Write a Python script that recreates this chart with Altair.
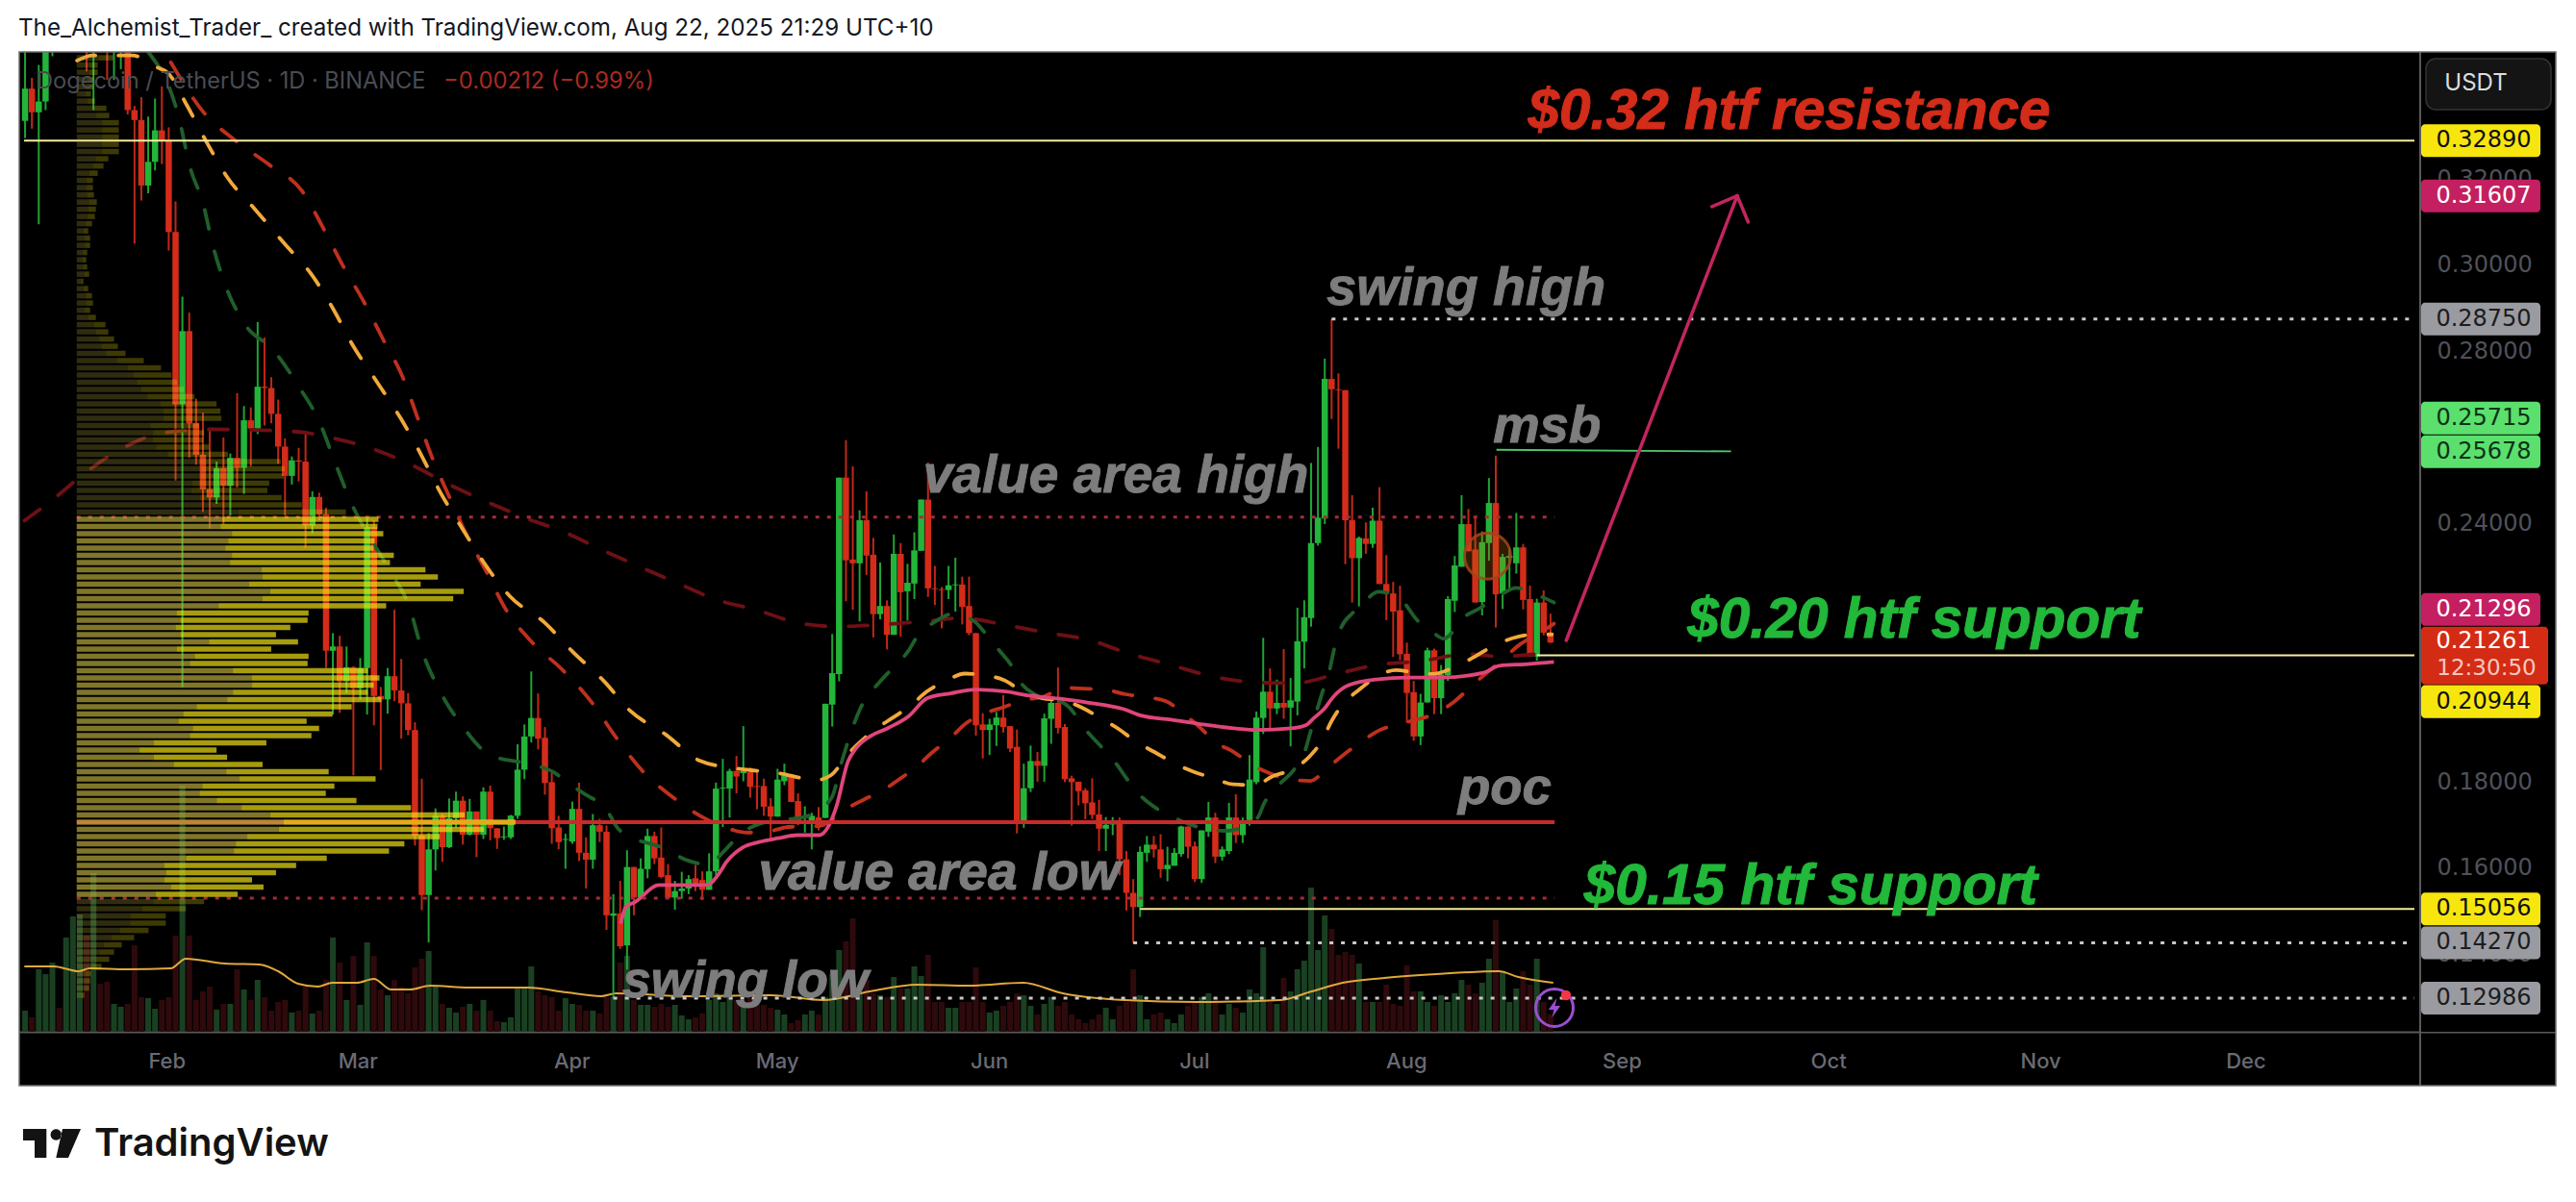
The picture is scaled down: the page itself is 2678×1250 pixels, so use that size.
import altair as alt
import pandas as pd

# ---------- daily candles (open, high, low, close), first candle is Jan 11 2025 ----------
ohlc_jan = [
(.3335,.3520,.3295,.3410),(.3410,.3435,.3317,.3355),(.3355,.3465,.3095,.3380),(.3380,.3700,.3360,.3600),
(.3600,.4100,.3485,.3800),(.3800,.4000,.3600,.3700),(.3700,.3850,.3550,.3800),(.3800,.4000,.3600,.3900),
(.3900,.4300,.3700,.4100),(.4100,.4200,.3450,.3600),(.3600,.3900,.3360,.3750),(.3750,.3800,.3500,.3600),
(.3600,.3700,.3430,.3550),(.3550,.3800,.3430,.3650),(.3650,.3850,.3455,.3700),(.3700,.3750,.3350,.3360),
(.3360,.3370,.3050,.3337),(.3337,.3390,.3150,.3185),(.3185,.3345,.3167,.3240),(.3240,.3387,.3220,.3313),
(.3313,.3415,.3235,.3288)]
ohlc_feb = [
(.3288,.3320,.3034,.3077),(.3077,.3148,.2500,.2677),(.2677,.2927,.2020,.2847),(.2847,.2890,.2553,.2633),
(.2633,.2690,.2537,.2560),(.2560,.2658,.2427,.2480),(.2480,.2618,.2389,.2461),(.2461,.2544,.2446,.2529),
(.2529,.2600,.2399,.2488),(.2488,.2563,.2419,.2553),(.2553,.2703,.2484,.2530),(.2530,.2673,.2469,.2640),
(.2640,.2670,.2533,.2621),(.2621,.2868,.2608,.2718),(.2718,.2832,.2628,.2715),(.2715,.2740,.2633,.2655),
(.2655,.2688,.2539,.2579),(.2579,.2598,.2419,.2511),(.2511,.2556,.2491,.2547),(.2547,.2576,.2498,.2544),
(.2544,.2611,.2344,.2396),(.2396,.2475,.2378,.2462),(.2462,.2472,.2408,.2422),(.2422,.2437,.2065,.2105),
(.2105,.2146,.1957,.2115),(.2115,.2140,.1961,.2034),(.2034,.2115,.2007,.2067),(.2067,.2069,.1816,.2018)]
ohlc_mar = [
(.2018,.2088,.1992,.2065),(.2065,.2415,.1957,.2392),(.2392,.2408,.1932,.2000),(.2000,.2021,.1828,.1992),
(.1992,.2065,.1959,.2046),(.2046,.2200,.1988,.2013),(.2013,.2086,.1901,.1983),(.1983,.2007,.1909,.1921),
(.1921,.1939,.1653,.1676),(.1676,.1808,.1503,.1538),(.1538,.1682,.1428,.1644),(.1644,.1739,.1595,.1722),
(.1722,.1726,.1615,.1649),(.1649,.1762,.1647,.1716),(.1716,.1778,.1695,.1757),(.1757,.1767,.1655,.1678),
(.1678,.1761,.1676,.1732),(.1732,.1732,.1626,.1678),(.1678,.1788,.1668,.1778),(.1778,.1792,.1665,.1693),
(.1693,.1693,.1645,.1670),(.1672,.1697,.1666,.1674),(.1672,.1724,.1668,.1722),(.1722,.1888,.1715,.1829),
(.1829,.1934,.1807,.1906),(.1906,.2057,.1892,.1949),(.1949,.2006,.1876,.1901),(.1903,.1928,.1771,.1798),
(.1800,.1822,.1657,.1693),(.1695,.1722,.1644,.1661),(.1666,.1680,.1599,.1668)]
ohlc_apr = [
(.1662,.1755,.1657,.1738),(.1738,.1799,.1617,.1636),(.1636,.1672,.1553,.1620),(.1620,.1726,.1599,.1700),
(.1700,.1715,.1661,.1685),(.1685,.1699,.1457,.1491),(.1490,.1540,.1299,.1495),(.1495,.1571,.1413,.1419),
(.1421,.1642,.1365,.1603),(.1603,.1603,.1491,.1532),(.1532,.1623,.1532,.1599),(.1598,.1692,.1577,.1675),
(.1675,.1685,.1610,.1623),(.1625,.1695,.1577,.1580),(.1584,.1610,.1529,.1532),(.1532,.1571,.1504,.1547),
(.1547,.1592,.1529,.1553),(.1553,.1584,.1540,.1575),(.1577,.1608,.1547,.1563),(.1573,.1593,.1526,.1550),
(.1550,.1635,.1550,.1593),(.1593,.1799,.1584,.1785),(.1785,.1854,.1696,.1787),(.1785,.1831,.1718,.1826),
(.1826,.1861,.1774,.1813),(.1821,.1930,.1802,.1826),(.1823,.1834,.1764,.1789),(.1791,.1828,.1737,.1789),
(.1791,.1808,.1722,.1743),(.1744,.1763,.1670,.1720)]
ohlc_may = [
(.1720,.1831,.1720,.1806),(.1802,.1843,.1793,.1815),(.1815,.1819,.1754,.1754),(.1756,.1774,.1700,.1707),
(.1718,.1744,.1683,.1722),(.1711,.1729,.1644,.1722),(.1718,.1742,.1688,.1696),(.1717,.1982,.1717,.1982),
(.1980,.2144,.1929,.2053),(.2051,.2507,.2034,.2507),(.2507,.2594,.2220,.2315),(.2317,.2533,.2200,.2308),
(.2308,.2431,.2173,.2408),(.2408,.2475,.2281,.2326),(.2328,.2367,.2136,.2190),(.2190,.2310,.2178,.2209),
(.2209,.2222,.2108,.2142),(.2142,.2375,.2142,.2330),(.2330,.2355,.2138,.2241),(.2243,.2307,.2175,.2263),
(.2261,.2380,.2225,.2338),(.2337,.2456,.2337,.2456),(.2456,.2542,.2230,.2250),(.2250,.2302,.2211,.2248),
(.2248,.2253,.2157,.2246),(.2246,.2302,.2225,.2257),(.2257,.2321,.2196,.2259),(.2259,.2277,.2166,.2207),
(.2209,.2277,.2141,.2146),(.2146,.2146,.1908,.1932),(.1934,.1960,.1855,.1921)]
ohlc_jun = [
(.1921,.1947,.1863,.1934),(.1932,.1963,.1884,.1950),(.1950,.2002,.1915,.1928),(.1930,.1930,.1870,.1878),
(.1882,.1922,.1681,.1707),(.1707,.1843,.1694,.1786),(.1786,.1885,.1777,.1849),(.1849,.1870,.1801,.1838),
(.1838,.1959,.1801,.1948),(.1947,.1993,.1889,.1984),(.1984,.2066,.1913,.1926),(.1928,.1935,.1800,.1807),
(.1809,.1815,.1699,.1800),(.1801,.1801,.1746,.1779),(.1781,.1786,.1714,.1751),(.1753,.1809,.1714,.1724),
(.1725,.1759,.1640,.1692),(.1692,.1719,.1640,.1701),(.1701,.1719,.1677,.1702),(.1703,.1718,.1584,.1621),
(.1621,.1640,.1502,.1543),(.1543,.1575,.1427,.1510),(.1510,.1651,.1487,.1638),(.1636,.1675,.1615,.1655),
(.1655,.1675,.1625,.1644),(.1644,.1679,.1578,.1598),(.1598,.1650,.1570,.1608),(.1606,.1647,.1606,.1636),
(.1633,.1699,.1627,.1697),(.1697,.1697,.1623,.1650)]
ohlc_jul = [
(.1651,.1662,.1568,.1575),(.1575,.1688,.1566,.1688),(.1685,.1754,.1673,.1718),(.1718,.1729,.1612,.1627),
(.1627,.1651,.1618,.1644),(.1640,.1752,.1633,.1718),(.1718,.1772,.1659,.1677),(.1677,.1718,.1659,.1703),
(.1712,.1863,.1699,.1806),(.1800,.1964,.1795,.1950),(.1949,.2135,.1912,.2010),(.2010,.2064,.1926,.1971),
(.1971,.2038,.1958,.1984),(.1984,.2109,.1947,.1973),(.1973,.2042,.1883,.1990),(.1987,.2205,.1955,.2127),
(.2126,.2222,.2064,.2183),(.2181,.2541,.2161,.2355),(.2355,.2578,.2349,.2414),(.2412,.2783,.2399,.2736),
(.2736,.2875,.2643,.2712),(.2712,.2749,.2574,.2710),(.2710,.2710,.2306,.2408),(.2408,.2466,.2217,.2320),
(.2320,.2370,.2208,.2367),(.2366,.2403,.2330,.2353),(.2353,.2437,.2344,.2407),(.2407,.2485,.2260,.2260),
(.2260,.2327,.2176,.2238),(.2238,.2265,.2091,.2196),(.2199,.2256,.2083,.2097)]
ohlc_aug = [
(.2098,.2124,.1938,.2007),(.2009,.2035,.1896,.1906),(.1906,.2005,.1886,.1985),(.1985,.2112,.1985,.2106),
(.2106,.2110,.1958,.1995),(.1995,.2072,.1958,.2050),(.2048,.2232,.2035,.2225),(.2221,.2325,.2195,.2303),
(.2300,.2466,.2300,.2399),(.2399,.2434,.2336,.2336),(.2340,.2418,.2217,.2217),(.2218,.2382,.2187,.2357),
(.2355,.2506,.2314,.2448),(.2448,.2558,.2159,.2236),(.2238,.2330,.2202,.2323),(.2321,.2344,.2250,.2325),
(.2308,.2425,.2284,.2345),(.2345,.2353,.2201,.2223),(.2225,.2256,.2092,.2092),(.2092,.2226,.2082,.2217),
(.2217,.2245,.2141,.2147),(.2147,.2191,.2123,.2124)]

# ---------- volume (panel units), same order as the candles ----------
vol_jan = [22,15,65,60,72,25,98,120,122,100,165,50,52,29,26,29,90,36,35,24,33]
vol_feb = [36,100,256,100,33,42,47,23,29,29,65,44,33,54,36,22,31,33,20,22,47,19,22,54,98,72,33,79]
vol_mar = [28,93,79,44,38,54,47,40,67,76,84,47,29,25,20,26,29,22,33,22,11,10,15,45,45,68,42,38,36,22,35]
vol_apr = [29,28,22,22,19,36,36,72,79,33,28,28,26,29,26,28,17,13,15,19,33,40,31,35,33,26,35,30,28,25]
vol_may = [23,18,9,12,18,22,18,36,60,85,94,118,40,54,40,38,36,57,45,45,68,58,80,31,31,25,25,31,31,67,31]
vol_jun = [20,22,27,31,40,38,27,18,29,36,27,31,18,13,9,13,18,25,13,27,31,65,38,13,18,20,13,9,18,27]
vol_jul = [31,36,40,36,18,29,25,20,44,40,88,31,29,56,42,65,74,150,85,121,107,80,83,80,71,31,31,31,49,29,27]
vol_aug = [69,42,42,31,27,38,31,40,54,49,40,51,76,116,63,31,45,63,49,76,31,18]

# volume average line
volma_day = [-21.1,-16.8,-13.2,-11.5,-6.1,.3,2.5,8.2,13.2,16,18.9,21.8,23.9,27.5,30,32.5,35.3,38.2,43.9,52.5,58.2,63.2,65.4,76,88.1,95.7,102.5,109.4,117,124.9,130.7,139.8,150.3,162.5,167.1,171.6,177.7,185.3,194.4,197.3,202.4]
volma_val = [68,68,63,66,65,66,76,71,70,63,50,47,51,51,55,44,44,48,46,46,41,37,40,37,38,33,42,49,48,51,40,33,31,33,42,51,56,60,63,57,51]

# ---------- moving averages (day, price) ----------
ma_green = [(-3,.3495),(1.4,.3348),(3.2,.3223),(5,.3145),(6.4,.3049),(8.3,.2953),(11,.2866),(15.4,.2801),(18.9,.2721),(22.1,.2634),(24.2,.2547),(26.5,.2455),(32,.2299),(35.3,.2201),(37,.2107),(39.5,.2016),(42.9,.1931),(47.1,.1862),(52.8,.1842),(56.3,.1823),(58.3,.1799),(61.5,.1766),(63.6,.1746),(65.7,.1692),(67.4,.1674),(72.3,.1647),(75.9,.1618),(78.7,.1609),(81.5,.1645),(83.2,.1674),(86.3,.1703),(93.7,.1723),(96.9,.1764),(98.6,.1859),(101.1,.1971),(103.9,.2032),(105.6,.2061),(108.1,.2104),(109.5,.2140),(111.9,.2171),(114.7,.2191),(117.8,.2173),(119.2,.2149),(121.4,.2106),(123.1,.2073),(124.8,.2026),(126.6,.2004),(131.1,.1981),(134.3,.1917),(136.4,.1881),(138.5,.1843),(140.2,.1805),(142.3,.1765),(144.5,.1738),(147.6,.1713),(150,.1698),(154.6,.1687),(159.1,.1716),(160.2,.1753),(162.3,.1794),(164.4,.1827),(166.1,.1872),(166.9,.1916),(168.6,.2006),(169.7,.2059),(170.3,.2104),(171.4,.2159),(173.1,.2193),(175.3,.2227),(176.8,.2242),(178.4,.2238),(180.5,.2218),(182.4,.2178),(184.7,.2149),(186.4,.2133),(189.4,.2184),(191.7,.2204),(194.5,.2233),(197,.2251),(199.7,.2237),(202.5,.2217)]
ma_orange = [(-13.4,.3475),(-11.1,.3487),(-5.3,.3487),(-1.8,.346),(-.1,.3446),(2.7,.337),(5.7,.3281),(8.7,.3201),(12.5,.3132),(17.1,.3047),(20.9,.2978),(24.1,.2897),(26.8,.2817),(30.4,.273),(33.9,.2645),(36.8,.2563),(39.6,.2476),(42.9,.2389),(46.1,.2309),(49.9,.2231),(54.9,.2171),(59.1,.2102),(63.6,.2035),(67.5,.1965),(72.7,.1910),(77.6,.1850),(82.9,.1832),(89.1,.1821),(94.7,.1805),(96.8,.1816),(99.3,.1865),(101,.1892),(103.5,.1925),(105.9,.195),(108.7,.1981),(110.8,.201),(113.6,.2035),(116.4,.2052),(119.3,.2048),(122.1,.2037),(124.9,.201),(127.7,.1995),(131.1,.1988),(133.6,.1972),(136.4,.1947),(138.9,.1923),(141.6,.1892),(144.1,.187),(146.9,.1845),(149.7,.1825),(152.8,.1809),(155.6,.1795),(158.8,.1793),(161.3,.1813),(164.4,.1831),(166.8,.186),(168.6,.1897),(170,.1942),(171.7,.1982),(173.9,.2013),(176.8,.2047),(179.4,.206),(182.4,.2054),(184.7,.2051),(188.2,.2069),(191,.2092),(193.6,.2116),(196.4,.2134),(199.7,.2143),(202.2,.2143)]
ma_red = [(.3,.3471),(5,.3357),(9.7,.329),(14.8,.3232),(19.5,.3172),(22.7,.3083),(25.5,.2998),(28.6,.2913),(31.4,.2826),(34.3,.2737),(36.4,.2645),(38.5,.2554),(41,.2463),(43.6,.2372),(46.4,.229),(49.2,.2203),(53.1,.2125),(57.6,.2060),(61.8,.1986),(65.3,.1906),(69.2,.1827),(73.7,.1765),(78.6,.1714),(81.5,.1694),(84.6,.1683),(88.1,.1687),(90.6,.1696),(95.1,.1698),(99,.1738),(101.7,.176),(104.6,.1783),(107,.1809),(109.5,.1838),(111.6,.1869),(114.3,.1903),(116.5,.1936),(119.2,.1959),(122,.1974),(124.9,.199),(128,.1999),(130.8,.2019),(133.9,.2017),(136.8,.2015),(139.9,.2004),(143,.1997),(145.8,.1988),(148.3,.1959),(150.7,.1928),(152.9,.1894),(155.7,.187),(158.5,.1839),(160.9,.1821),(164,.1806),(166.9,.1803),(169.3,.1832),(171.7,.1863),(174.2,.1892),(176.8,.1919),(179.6,.1934),(181.9,.1943),(185.4,.1961),(188,.1988),(190.3,.2021),(192.7,.2054),(194.9,.2083),(197.3,.2117),(200.8,.2150),(202.5,.2168)]
ma_darkred = [(-21.1,.2407),(-16.8,.2458),(-11.8,.2523),(-6.9,.2574),(-1.1,.261),(6,.2619),(18.2,.2614),(23.9,.2599),(29.7,.2574),(35.3,.2538),(41,.2491),(46.5,.2451),(52.5,.2411),(57.6,.2382),(63.2,.234),(68.6,.2302),(74.4,.2262),(80,.2224),(86.1,.2199),(91.9,.217),(97.9,.2161),(103.2,.2165),(110.9,.2174),(115.8,.2181),(122.3,.2165),(128.3,.2147),(134.5,.2130),(140.5,.2098),(146.5,.2072),(152.7,.2045),(158.7,.2032),(164.7,.203),(170.9,.2052),(176.5,.2072),(183,.2081),(189.8,.2097),(194.4,.2092),(201.9,.2101)]
vwap_pink = [(66.1,.1472),(66.8,.151),(68.1,.1521),(71.7,.1561),(74.5,.1561),(78.7,.1561),(80.4,.1587),(81.5,.1614),(83.9,.1648),(86.3,.1661),(89.1,.167),(91.9,.1677),(95.1,.1677),(96.5,.1699),(97.6,.1743),(99.3,.1848),(100.4,.1877),(102.5,.1906),(105.2,.1926),(108.1,.1952),(110.9,.1995),(114.3,.2006),(117.8,.2015),(122.7,.201),(124.9,.2003),(130.1,.1994),(134.3,.1985),(139.5,.197),(142.3,.1954),(146.5,.1945),(151.1,.1934),(155.7,.1925),(159.1,.1921),(164.1,.1925),(166.2,.1932),(167.5,.195),(168.9,.197),(170.3,.1999),(172.5,.2025),(176.8,.2039),(181,.2043),(186.1,.2043),(192.2,.2054),(194.5,.207),(198.7,.2074),(202.5,.2079)]

# ---------- volume profile rows, top to bottom ----------
poc_price = .1707
row_step = .001674
pv_above = [38,22,22,18,17,15,19,31,34,44,44,44,44,44,33,28,22,17,17,18,21,20,19,16,12,14,14,11,10,11,13,7,12,16,17,14,20,30,33,39,43,51,70,88,99,105,112,123,146,150,151,128,133,132,138,158,213,217,216,201,199,214,235,281]
pv_va_total = [315,314,320,311,310,331,327,364,377,359,404,393,323,242,241,223,208,231,203,242,241,304,316,310,304,318,287,267,240,253,245,198,146,157,194,263,312,269,260,292,349,405,458,425,379,342,326,261,229,208,183,195,168]
pv_va_up = [152,150,162,158,155,162,160,193,194,180,202,194,148,104,108,103,108,138,104,123,118,163,183,183,163,157,125,111,106,121,118,80,65,80,101,156,170,131,128,146,172,202,216,211,178,166,164,114,91,93,91,98,82]
pv_below = [133,114,93,93,75,60,47,39,34,26,15,14,13,8]

# ---------- levels and labels ----------
vah, val = .2415, .1531
price_ticks = [.14,.16,.18,.24,.28,.30,.32]
month_days = [-.3,27.6,58.9,88.9,119.9,149.9,180.9,212.4,242.6,273.6,303.6]
month_names = ['Feb','Mar','Apr','May','Jun','Jul','Aug','Sep','Oct','Nov','Dec']
DAY_MIN, DAY_MAX = -21.148, 328.29
P_MIN, P_MAX = .12205, .34951

# (shown value, position on the scale, fill, text colour)
tags = [('0.32890',.3289,'#f7e60e','#111111'),('0.31607',.31607,'#c41f60','#ffffff'),
        ('0.28750',.2875,'#9a9ba0','#1c1c20'),('0.25715',.2645,'#5be06e','#0d3316'),
        ('0.25678',.2567,'#5be06e','#0d3316'),('0.21296',.2201,'#c41f60','#ffffff'),
        ('0.20944',.1987,'#f7e60e','#111111'),('0.15056',.15056,'#f7e60e','#111111'),
        ('0.14270',.1427,'#9a9ba0','#1c1c20'),('0.12986',.12986,'#9a9ba0','#1c1c20')]

# text, day, price, colour, size
notes = [('$0.32 htf resistance',198.7,.3357,'#d42c1a',58.5),('swing high',169.3,.2946,'#7d7d7d',55.5),
         ('msb',193.6,.2625,'#7d7d7d',54.5),('value area high',110.3,.2511,'#7d7d7d',55),
         ('$0.20 htf support',222,.2176,'#22b83a',58.5),('$0.15 htf support',206.9,.1558,'#22b83a',58.5),
         ('poc',188.5,.1786,'#7d7d7d',54.5),('value area low',86.2,.1589,'#7d7d7d',55),
         ('swing low',66.3,.1337,'#7d7d7d',53.5)]

# day0, day1, price0, price1
arrow_parts = [(204.3,229.3,.2129,.3161),(225.6,229.3,.3136,.3161),(230.9,229.3,.3100,.3161)]

# ---------- tables ----------
ohlc = ohlc_jan+ohlc_feb+ohlc_mar+ohlc_apr+ohlc_may+ohlc_jun+ohlc_jul+ohlc_aug
vols = vol_jan+vol_feb+vol_mar+vol_apr+vol_may+vol_jun+vol_jul+vol_aug
n = min(len(ohlc), len(vols))
cd = pd.DataFrame(ohlc[:n], columns=['o','h','l','c'])
cd['d'] = [i-21 for i in range(n)]
cd['up'] = cd.c >= cd.o
cd['hi'] = cd[['o','c']].max(axis=1)
cd['lo'] = cd[['o','c']].min(axis=1)
VOLK = 1/4480
cd['v'] = [P_MIN+v*VOLK for v in vols[:n]]
cd['v0'] = P_MIN

X = lambda f='d': alt.X(f'{f}:Q', scale=alt.Scale(domain=[DAY_MIN,DAY_MAX], nice=False, zero=False), axis=None, title=None)
Y = lambda f='p': alt.Y(f'{f}:Q', scale=alt.Scale(domain=[P_MIN,P_MAX], nice=False, zero=False), axis=None, title=None)
GREEN, RED = '#22b53a', '#d42c1a'
one = pd.DataFrame({'k':[0]})

def box(x0,y0,x1,y1,**kw):
    return alt.Chart(one).mark_rect(**kw).encode(x=alt.value(x0-20),x2=alt.value(x1-20),y=alt.value(y0-54),y2=alt.value(y1-54))
def txt(s,x,y,**kw):
    return alt.Chart(pd.DataFrame({'t':[s]})).mark_text(baseline='middle',**kw).encode(text='t:N',x=alt.value(x-20),y=alt.value(y-54))

layers = []

# white page strips (the chart background is the black panel)
for b in [(8,8,2670,54),(8,1129,2670,1242),(8,8,20,1242),(2657,8,2670,1242)]:
    layers.append(box(*b,color='white'))

# axes
month_expr = "%s[indexof(%s,datum.value)]" % (month_names, month_days)
axis_host = alt.Chart(pd.DataFrame({'d':[0],'p':[.2]})).mark_point(opacity=0).encode(
    x=alt.X('d:Q', scale=alt.Scale(domain=[DAY_MIN,DAY_MAX], nice=False, zero=False), title=None,
            axis=alt.Axis(values=month_days, labelExpr=month_expr,
                          labelColor='#686b75', labelFontSize=22, labelFont='Inter', labelFontWeight=500, labelPadding=20,
                          tickSize=0, grid=False, domainColor='#5a5a5a', domainWidth=2, labelFlush=False, labelOverlap=False)),
    y=alt.Y('p:Q', scale=alt.Scale(domain=[P_MIN,P_MAX], nice=False, zero=False), title=None,
            axis=alt.Axis(values=price_ticks, orient='right', format='.5f', labelColor='#4f5158', labelFontSize=24,
                          labelFont='DejaVu Sans', labelPadding=18, tickSize=0, grid=False, domain=False,
                          labelOverlap=False, labelFlush=False)))
layers.append(axis_host)

# volume
for up,col in [(True,'#1a4022'),(False,'#2e0a0c')]:
    layers.append(alt.Chart(cd[cd.up==up]).mark_bar(size=6,color=col,clip=True).encode(x=X(),y=Y('v0'),y2='v:Q'))
volma = pd.DataFrame({'d':volma_day,'p':[P_MIN+v*VOLK for v in volma_val]})
layers.append(alt.Chart(volma).mark_line(color='#e0a83c',strokeWidth=2,clip=True,interpolate='monotone').encode(x=X(),y=Y()))

# candles
for up,col in [(True,GREEN),(False,RED)]:
    sub = cd[cd.up==up]
    layers.append(alt.Chart(sub).mark_rule(color=col,strokeWidth=2,opacity=.9,clip=True).encode(x=X(),y=Y('l'),y2='h:Q'))
    layers.append(alt.Chart(sub).mark_bar(size=6.5,color=col,clip=True).encode(x=X(),y=Y('lo'),y2='hi:Q'))

# dashed averages
for pts,col in [(ma_darkred,'#6e1014'),(ma_green,'#1f5f2a'),(ma_red,'#c0301e'),(ma_orange,'#f2a93b')]:
    df = pd.DataFrame(pts,columns=['d','p'])
    layers.append(alt.Chart(df).mark_line(color=col,strokeWidth=3.8,strokeDash=[20,24],strokeCap='round',clip=True,interpolate='monotone').encode(x=X(),y=Y()))
layers.append(alt.Chart(pd.DataFrame(vwap_pink,columns=['d','p'])).mark_line(color='#e0457b',strokeWidth=3.8,clip=True,interpolate='monotone').encode(x=X(),y=Y()))

# level lines
PV_LEFT = -13.45
END = 202.6
hlines = [(.3289,DAY_MIN,DAY_MAX,'#f5eda0',2,None),(.2875,170,DAY_MAX,'#c8c8c8',3,[4,8]),
          (vah,PV_LEFT,END,'#a82a3a',3,[4,8]),(poc_price,PV_LEFT,END,'#c92a2a',4,None),
          (val,PV_LEFT,END,'#a82a3a',3,[4,8]),(.15056,142,DAY_MAX,'#f5eda0',2,None),
          (.20944,200,DAY_MAX,'#f5eda0',2,None),(.1427,141,DAY_MAX,'#c8c8c8',3,[4,8]),
          (.12986,65,DAY_MAX,'#c8c8c8',3,[4,8])]
for p,a,b,col,w,dash in hlines:
    kw = {'strokeDash':dash} if dash else {}
    layers.append(alt.Chart(pd.DataFrame({'d':[a],'d2':[b],'p':[p]})).mark_rule(color=col,strokeWidth=w,clip=True,**kw).encode(x=X(),x2='d2:Q',y=Y()))
layers.append(alt.Chart(pd.DataFrame({'d':[194.1],'d2':[228.4],'p':[.25715],'p2':[.25678]})).mark_rule(color='#4fc56a',strokeWidth=1.8).encode(x=X(),x2='d2:Q',y=Y(),y2='p2:Q'))

# volume profile (drawn over candles, translucent)
PVK = 1/7.14
HALF = .00062
rows = []
n_va_up = 42
for i,t in enumerate(pv_above):
    rows.append((poc_price+(n_va_up+len(pv_above)-i)*row_step, t, t*.6, 'dark'))
for i,(t,u) in enumerate(zip(pv_va_total,pv_va_up)):
    rows.append((poc_price+(n_va_up-i)*row_step, t, u, 'va'))
for i,t in enumerate(pv_below):
    rows.append((poc_price-(11+i)*row_step, t, t*.6, 'dark'))
pv = pd.DataFrame(rows,columns=['p','t','u','z'])
pv['y0'] = pv.p-HALF
pv['y1'] = pv.p+HALF
pv['x0'] = PV_LEFT
pv['xu'] = PV_LEFT+pv.u*PVK
pv['xt'] = PV_LEFT+pv.t*PVK
for z,op in [('va',.68),('dark',.25)]:
    sub = pv[pv.z==z]
    layers.append(alt.Chart(sub).mark_rect(color='#bcae3e',opacity=op).encode(x=X('x0'),x2='xu:Q',y=Y('y0'),y2='y1:Q'))
    layers.append(alt.Chart(sub).mark_rect(color='#f5e614',opacity=op).encode(x=X('xu'),x2='xt:Q',y=Y('y0'),y2='y1:Q'))

# arrow
arrow = pd.DataFrame(arrow_parts,columns=['d','d2','p','p2'])
layers.append(alt.Chart(arrow).mark_rule(color='#c2255f',strokeWidth=3.5,strokeCap='round').encode(x=X(),x2='d2:Q',y=Y(),y2='p2:Q'))

# drawn circle
layers.append(alt.Chart(pd.DataFrame({'d':[192.8],'p':[.2325]})).mark_circle(size=2304,color='#c87010',fillOpacity=.25,stroke='#a0451a',strokeOpacity=.85,strokeWidth=3).encode(x=X(),y=Y()))

# annotations
for s,d,p,col,fs in notes:
    layers.append(alt.Chart(pd.DataFrame({'t':[s],'d':[d],'p':[p]})).mark_text(align='left',baseline='middle',font='Liberation Sans',fontSize=fs,fontStyle='italic',fontWeight='bold',color=col,stroke=col,strokeWidth=1).encode(text='t:N',x=X(),y=Y()))

# chart legend line
layers.append(txt('Dogecoin / TetherUS · 1D · BINANCE',38,85,align='left',font='Inter',fontSize=23.6,color='#4a4c54'))
layers.append(txt('−0.00212 (−0.99%)',461,85,align='left',font='Inter',fontSize=23.8,color='#a82a20'))

# price tags
tg = pd.DataFrame(tags,columns=['s','p','bg','fg'])
tg['y0'] = tg.p-.0038
tg['y1'] = tg.p+.0038
for _,r in tg.iterrows():
    one_row = pd.DataFrame([r])
    layers.append(alt.Chart(one_row).mark_rect(color=r.bg,cornerRadius=4).encode(x=alt.value(2497),x2=alt.value(2621),y=Y('y0'),y2='y1:Q'))
    layers.append(alt.Chart(one_row).mark_text(color=r.fg,font='DejaVu Sans',fontSize=24,align='center',baseline='middle').encode(text='s:N',x=alt.value(2562),y=Y()))
# live price tag
live = pd.DataFrame({'p':[.2094],'y0':[.2027],'y1':[.2161],'a':[.2127],'b':[.2065],'s':['0.21261'],'t':['12:30:50']})
layers.append(alt.Chart(live).mark_rect(color='#d42c14',cornerRadius=4).encode(x=alt.value(2497),x2=alt.value(2629),y=Y('y0'),y2='y1:Q'))
layers.append(alt.Chart(live).mark_text(color='#ffffff',font='DejaVu Sans',fontSize=24,align='center',baseline='middle').encode(text='s:N',x=alt.value(2562),y=Y('a')))
layers.append(alt.Chart(live).mark_text(color='#f4c8c0',font='DejaVu Sans',fontSize=23,align='center',baseline='middle').encode(text='t:N',x=alt.value(2565),y=Y('b')))

# frame, axis divider, currency button
layers.append(box(2515,54,2517,1129,color='#5a5a5a'))
layers.append(box(2517,1073,2657,1074.5,color='#5a5a5a'))
layers.append(box(2522,61,2652,114,color='#141414',stroke='#333333',strokeWidth=1.5,cornerRadius=10))
layers.append(txt('USDT',2574,87,align='center',font='Inter',fontSize=24,color='#dddddd'))
layers.append(box(20,54,2657,1129,fillOpacity=0,fill='black',stroke='#6f6f6f',strokeWidth=1.5))

# alert icon
ZAP = 'M0.25,-1 L-0.6,0.2 L-0.05,0.2 L-0.25,1 L0.6,-0.2 L0.05,-0.2 Z'
ic = one
layers.append(alt.Chart(ic).mark_point(shape='circle',size=1521,stroke='#9b4fd0',strokeWidth=3,filled=False,opacity=1).encode(x=alt.value(1596),y=alt.value(994)))
layers.append(alt.Chart(ic).mark_point(shape=ZAP,size=420,fill='#9b4fd0',filled=True,opacity=1).encode(x=alt.value(1596),y=alt.value(994)))
layers.append(alt.Chart(ic).mark_point(shape='circle',size=110,fill='#f23645',filled=True,opacity=1).encode(x=alt.value(1608),y=alt.value(981)))

# page header and footer
layers.append(txt('The_Alchemist_Trader_ created with TradingView.com, Aug 22, 2025 21:29 UTC+10',19,30,align='left',font='Inter',fontSize=24.2,color='#131722'))
LOGO = 'M-1,-.5 L-.19,-.5 L-.19,.5 L-.6,.5 L-.6,-.1 L-1,-.1 Z M-.047,-.3 A.19,.19 0 1 0 .333,-.3 A.19,.19 0 1 0 -.047,-.3 Z M.367,-.5 L1,-.5 L.567,.5 L.143,.5 Z'
layers.append(alt.Chart(one).mark_point(shape=LOGO,size=3600,fill='#131313',filled=True,opacity=1).encode(x=alt.value(54-20),y=alt.value(1189-54)))
layers.append(txt('TradingView',98,1190,align='left',font='Inter',fontSize=40,fontWeight=600,color='#131313'))

chart = alt.layer(*layers).resolve_axis(x='independent', y='independent').properties(
    width=2495, height=1019, background='black',
    autosize=alt.AutoSizeParams(type='none'),
    padding={'left':12,'top':46,'right':155,'bottom':169}
).configure_view(strokeWidth=0)

chart.save("out.html", embed_options={"renderer": "svg", "actions": False})
